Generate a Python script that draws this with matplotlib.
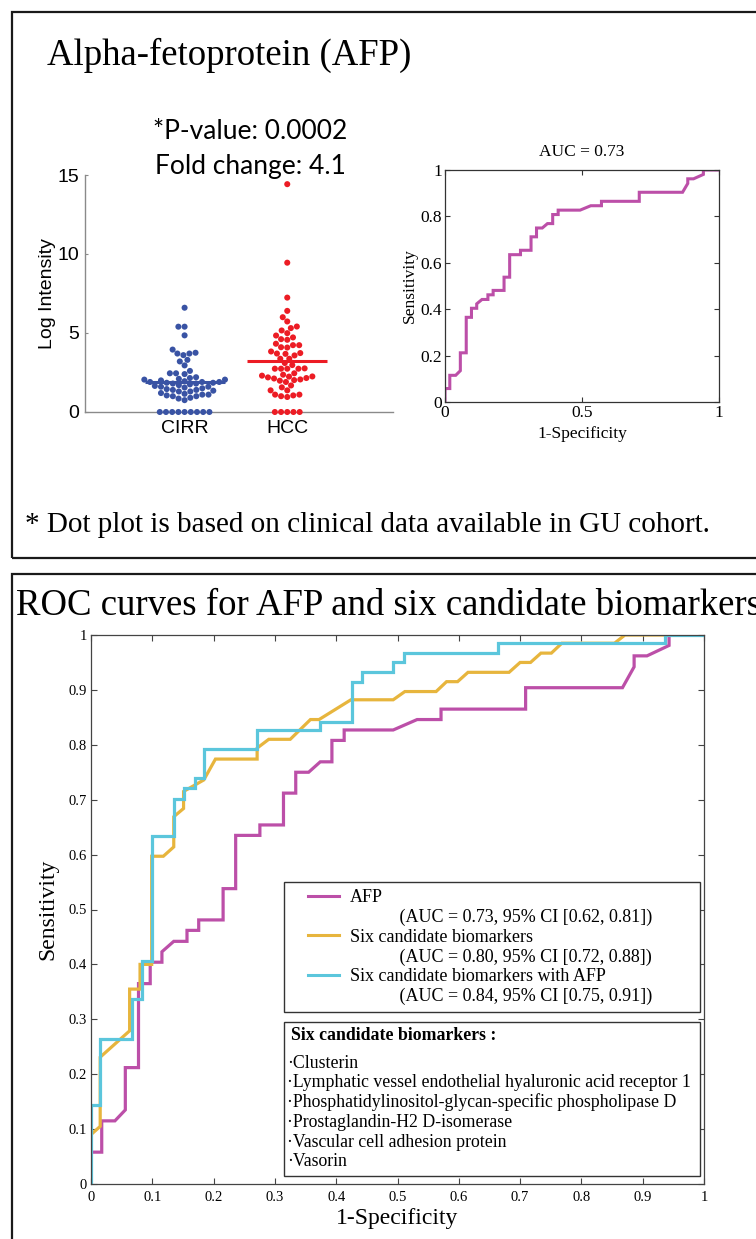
import numpy as np
import matplotlib
matplotlib.use("Agg")
import matplotlib.pyplot as plt
from matplotlib.patches import Rectangle
from matplotlib.lines import Line2D
from matplotlib.legend_handler import HandlerLine2D

W, H = 756, 1239
SERIF = ["Liberation Serif", "DejaVu Serif"]
SANS = ["Liberation Sans", "DejaVu Sans"]
CAL = ["Lato", "DejaVu Sans"]

# ------------------------------------------------------------------ data
dot_categories = ["CIRR", "HCC"]
cirr_log_intensity = [6.6, 5.4, 5.4, 4.85, 3.95, 3.7, 3.7, 3.75, 3.6, 3.3, 3.2, 2.95,
                      2.6, 2.45, 2.45, 2.4, 2.2, 2.15, 2.1, 2.05, 2.05, 2.0, 1.95, 1.9,
                      1.9, 1.9, 1.85, 1.85, 1.8, 1.8, 1.75, 1.7, 1.65, 1.6, 1.6, 1.55,
                      1.5, 1.45, 1.4, 1.4, 1.35, 1.3, 1.3, 1.2, 1.15, 1.1, 1.1, 1.05,
                      1.0, 1.0, 0.9, 0.85, 0.75, 0, 0, 0, 0, 0, 0, 0, 0, 0]
hcc_log_intensity = [14.42, 9.45, 7.24, 6.4, 6.0, 5.73, 5.41, 5.31, 5.16, 4.99, 4.72,
                     4.84, 4.61, 4.57, 4.23, 4.08, 4.23, 4.32, 4.1, 3.83, 3.58, 3.73,
                     3.68, 3.7, 3.37, 3.37, 2.97, 3.1, 2.74, 2.74, 2.74, 2.74, 2.76,
                     2.45, 2.25, 2.36, 2.3, 2.12, 2.06, 2.19, 2.15, 2.24, 2.02, 1.98,
                     1.9, 1.56, 1.68, 1.37, 1.37, 1.1, 1.0, 1.1, 1.05, 0.95, 0, 0, 0, 0, 0]
dot_yticks = [0, 5, 10, 15]
p_value_text = "*P-value: 0.0002"
fold_change_text = "Fold change: 4.1"
footnote_text = "* Dot plot is based on clinical data available in GU cohort."
top_title = "Alpha-fetoprotein (AFP)"
bottom_title = "ROC curves for AFP and six candidate biomarkers"
top_roc_title = "AUC = 0.73"

afp_fpr = [0, 0, 0.0175, 0.0175, 0.039, 0.056, 0.056, 0.0775, 0.0775, 0.0966,
           0.0966, 0.1157, 0.1157, 0.135, 0.1566, 0.1566, 0.1757, 0.1757, 0.2155, 0.2155,
           0.236, 0.236, 0.2755, 0.2755, 0.314, 0.314, 0.334, 0.334, 0.355, 0.374,
           0.393, 0.393, 0.413, 0.413, 0.493, 0.532, 0.571, 0.571, 0.709, 0.709,
           0.867, 0.886, 0.886, 0.907, 0.943, 0.943, 1.0]
afp_tpr = [0, 0.058, 0.058, 0.115, 0.115, 0.135, 0.212, 0.212, 0.365, 0.365,
           0.404, 0.404, 0.423, 0.442, 0.442, 0.462, 0.462, 0.481, 0.481, 0.538,
           0.538, 0.635, 0.635, 0.654, 0.654, 0.712, 0.712, 0.75, 0.75, 0.769,
           0.769, 0.808, 0.808, 0.827, 0.827, 0.846, 0.846, 0.865, 0.865, 0.904,
           0.904, 0.942, 0.962, 0.962, 0.981, 1.0, 1.0]
six_fpr = [0, 0, 0.015, 0.015, 0.063, 0.063, 0.08, 0.08, 0.099, 0.099,
           0.118, 0.135, 0.135, 0.151, 0.151, 0.184, 0.203, 0.271, 0.271, 0.29,
           0.325, 0.358, 0.372, 0.424, 0.493, 0.512, 0.563, 0.58, 0.598, 0.615,
           0.682, 0.70, 0.717, 0.734, 0.751, 0.768, 0.854, 0.871, 1.0]
six_tpr = [0, 0.09, 0.105, 0.231, 0.279, 0.355, 0.355, 0.40, 0.40, 0.597,
           0.597, 0.614, 0.669, 0.684, 0.715, 0.736, 0.774, 0.774, 0.794, 0.81,
           0.81, 0.846, 0.846, 0.882, 0.882, 0.897, 0.897, 0.915, 0.915, 0.932,
           0.932, 0.95, 0.95, 0.967, 0.967, 0.985, 0.985, 1.0, 1.0]
combo_fpr = [0, 0, 0.0147, 0.0147, 0.0666, 0.0666, 0.083, 0.083, 0.099, 0.099,
             0.135, 0.135, 0.151, 0.151, 0.169, 0.169, 0.185, 0.185, 0.27, 0.27,
             0.374, 0.374, 0.425, 0.425, 0.442, 0.442, 0.493, 0.493, 0.510, 0.510,
             0.664, 0.664, 0.937, 0.937, 1.0]
combo_tpr = [0, 0.143, 0.143, 0.265, 0.265, 0.337, 0.337, 0.407, 0.407, 0.633,
             0.633, 0.702, 0.702, 0.721, 0.721, 0.739, 0.739, 0.792, 0.792, 0.827,
             0.827, 0.842, 0.842, 0.914, 0.914, 0.933, 0.933, 0.950, 0.950, 0.968,
             0.968, 0.985, 0.985, 1.0, 1.0]

roc_names = ["AFP", "Six candidate biomarkers", "Six candidate biomarkers with AFP"]
roc_auc_text = ["(AUC = 0.73, 95% CI [0.62, 0.81])",
                "(AUC = 0.80, 95% CI [0.72, 0.88])",
                "(AUC = 0.84, 95% CI [0.75, 0.91])"]
biomarker_heading = "Six candidate biomarkers :"
biomarkers = ["Clusterin",
              "Lymphatic vessel endothelial hyaluronic acid receptor 1",
              "Phosphatidylinositol-glycan-specific phospholipase D",
              "Prostaglandin-H2 D-isomerase",
              "Vascular cell adhesion protein",
              "Vasorin"]

top_roc_xticks = [0, 0.5, 1]
top_roc_xticklabels = ["0", "0.5", "1"]
top_roc_yticks = [0, 0.2, 0.4, 0.6, 0.8, 1]
top_roc_yticklabels = ["0", "0.2", "0.4", "0.6", "0.8", "1"]
bottom_ticks = [0, 0.1, 0.2, 0.3, 0.4, 0.5, 0.6, 0.7, 0.8, 0.9, 1]
bottom_ticklabels = ["0", "0.1", "0.2", "0.3", "0.4", "0.5", "0.6", "0.7", "0.8", "0.9", "1"]

# ------------------------------------------------------------------ style
BLUE = "#3953A4"
RED = "#EC1C24"
MAG = "#BC4FA8"
YEL = "#E7B53D"
CYA = "#5BC6DC"
roc_colors = [MAG, YEL, CYA]

fig = plt.figure(figsize=(W / 100, H / 100), dpi=100)


def px_axes(l, t, r, b):
    return fig.add_axes([l / W, 1 - b / H, (r - l) / W, (b - t) / H])


# frames
for (l, t, r, b) in [(12, 12, 775, 558), (12, 574, 775, 1260)]:
    fig.patches.append(Rectangle((l / W, 1 - b / H), (r - l) / W, (b - t) / H,
                                 transform=fig.transFigure, fill=False,
                                 ec="#1a1a1a", lw=1.6, clip_on=False))

fig.text(47 / W, 1 - 65 / H, top_title, family=SERIF, size=26.5, va="baseline")
fig.text(16 / W, 1 - 615 / H, bottom_title, family=SERIF, size=26.5, va="baseline")
fig.text(25 / W, 1 - 532 / H, footnote_text, family=SERIF, size=21, va="baseline")
fig.text(250 / W, 1 - 139 / H, p_value_text, family=CAL, size=19,
         ha="center", va="baseline")
fig.text(250 / W, 1 - 174 / H, fold_change_text, family=CAL, size=19,
         ha="center", va="baseline")

# ------------------------------------------------------------------ dot plot
ax0 = px_axes(85, 175, 393, 412)
ax0.set_xlim(0.03, 3.03)
ax0.set_ylim(0, 15)
fig.canvas.draw()


def beeswarm(vals, pos, ax, d):
    pts = ax.transData.transform(np.column_stack([np.full(len(vals), pos), vals]))
    ys = pts[:, 1]
    order = np.argsort(ys, kind="stable")
    placed = []
    xs = np.zeros(len(vals))
    for i in order:
        y = ys[i]
        near = [(px, py) for px, py in placed if abs(py - y) < d]
        cands = [0.0]
        for px, py in near:
            dx = np.sqrt(d * d - (py - y) ** 2)
            cands += [px + dx, px - dx]
        cands = sorted(cands, key=lambda c: (abs(c), c))
        for c in cands:
            if all((c - px) ** 2 + (y - py) ** 2 >= d * d - 1e-6 for px, py in near):
                xs[i] = c
                break
        placed.append((xs[i], y))
    disp = np.column_stack([pts[:, 0] + xs, ys])
    return ax.transData.inverted().transform(disp)[:, 0]


for pos, vals, col in [(1, cirr_log_intensity, BLUE), (2, hcc_log_intensity, RED)]:
    xv = beeswarm(vals, pos, ax0, 6.2)
    ax0.scatter(xv, vals, s=19, color=col, edgecolors="none", zorder=3, clip_on=False)
    m = np.mean(vals)
    ax0.hlines(m, pos - 0.39, pos + 0.39, color=col, lw=2.2, zorder=4)

for s in ["top", "right"]:
    ax0.spines[s].set_visible(False)
for s in ["left", "bottom"]:
    ax0.spines[s].set_color("#8a8a8a")
    ax0.spines[s].set_linewidth(1.0)
ax0.set_yticks(dot_yticks)
ax0.set_yticklabels([str(v) for v in dot_yticks], family=SANS, size=14)
ax0.set_xticks([1, 2])
ax0.set_xticklabels(dot_categories, family=SANS, size=14)
ax0.tick_params(axis="x", length=0, pad=6)
ax0.tick_params(axis="y", direction="in", length=2.5, color="#8a8a8a", pad=4)
ax0.set_ylabel("Log Intensity", family=SANS, size=14)
ax0.yaxis.set_label_coords(-0.123, 0.5)
ax0.yaxis.label.set_va("center")

# ------------------------------------------------------------------ small ROC
ax1 = px_axes(445, 170, 719, 402)
ax1.plot(afp_fpr, afp_tpr, color=MAG, lw=2.2, solid_joinstyle="miter")
ax1.set_xlim(0, 1)
ax1.set_ylim(0, 1)
ax1.set_xticks(top_roc_xticks)
ax1.set_xticklabels(top_roc_xticklabels, family=SERIF, size=12.5)
ax1.set_yticks(top_roc_yticks)
ax1.set_yticklabels(top_roc_yticklabels, family=SERIF, size=12.5)
ax1.tick_params(direction="in", length=3.5, top=True, right=True, color="#333333",
                pad=2)
for s in ax1.spines.values():
    s.set_color("#333333")
    s.set_linewidth(0.9)
ax1.set_title(top_roc_title, family=SERIF, size=12.5, pad=10)
ax1.set_xlabel("1-Specificity", family=SERIF, size=12.5)
ax1.xaxis.set_label_coords(0.5, -0.138)
ax1.xaxis.label.set_va("center")
ax1.set_ylabel("Sensitivity", family=SERIF, size=12.5)
ax1.yaxis.set_label_coords(-0.128, 0.5)
ax1.yaxis.label.set_va("center")

# ------------------------------------------------------------------ big ROC
ax2 = px_axes(91, 635, 704, 1184)
for fx, ty, col in [(afp_fpr, afp_tpr, MAG), (six_fpr, six_tpr, YEL),
                    (combo_fpr, combo_tpr, CYA)]:
    ax2.plot(fx, ty, color=col, lw=2.3, solid_joinstyle="miter")
ax2.set_xlim(0, 1)
ax2.set_ylim(0, 1)
ax2.set_xticks(bottom_ticks)
ax2.set_xticklabels(bottom_ticklabels, family=SERIF, size=10.5)
ax2.set_yticks(bottom_ticks)
ax2.set_yticklabels(bottom_ticklabels, family=SERIF, size=10.5)
ax2.tick_params(direction="in", length=4.5, top=True, right=True, color="#444444",
                pad=3)
ax2.tick_params(axis="x", pad=5)
for s in ax2.spines.values():
    s.set_color("#444444")
    s.set_linewidth(0.9)
ax2.set_xlabel("1-Specificity", family=SERIF, size=17)
ax2.xaxis.set_label_coords(0.5, -0.062)
ax2.xaxis.label.set_va("center")
ax2.set_ylabel("Sensitivity", family=SERIF, size=17)
ax2.yaxis.set_label_coords(-0.07, 0.5)
ax2.yaxis.label.set_va("center")

handles, labels = [], []
for name, auc, col in zip(roc_names, roc_auc_text, roc_colors):
    handles.append(Line2D([], [], color=col, lw=2.2))
    labels.append(name)
    handles.append(Line2D([], [], color="none"))
    labels.append(" " * 11 + auc)
leg = ax2.legend(handles, labels, loc="upper left",
                 bbox_to_anchor=(0.315, 0.306, 0.6786, 0.244), mode="expand",
                 borderaxespad=0, borderpad=0.38, handlelength=2.65,
                 handletextpad=0.61, labelspacing=0.15,
                 prop={"family": SERIF, "size": 13}, fancybox=False,
                 edgecolor="#333333", framealpha=1,
                 handler_map={Line2D: HandlerLine2D(xpad=0.93)})
leg.get_frame().set_linewidth(1.0)

ax2.add_patch(Rectangle((0.315, 0.0146), 0.6786, 0.2804, transform=ax2.transAxes,
                        fc="white", ec="#333333", lw=1.0, zorder=5))
ax2.text(0.3263, 0.2696, biomarker_heading, transform=ax2.transAxes, family=SERIF,
         size=12.8, weight="bold", va="center", zorder=6)
for i, name in enumerate(biomarkers):
    ax2.text(0.3197, 0.2204 - i * 0.036, "\u00b7" + name, transform=ax2.transAxes,
             family=SERIF, size=12.8, va="center", zorder=6)

fig.savefig("out.png", dpi=100)
